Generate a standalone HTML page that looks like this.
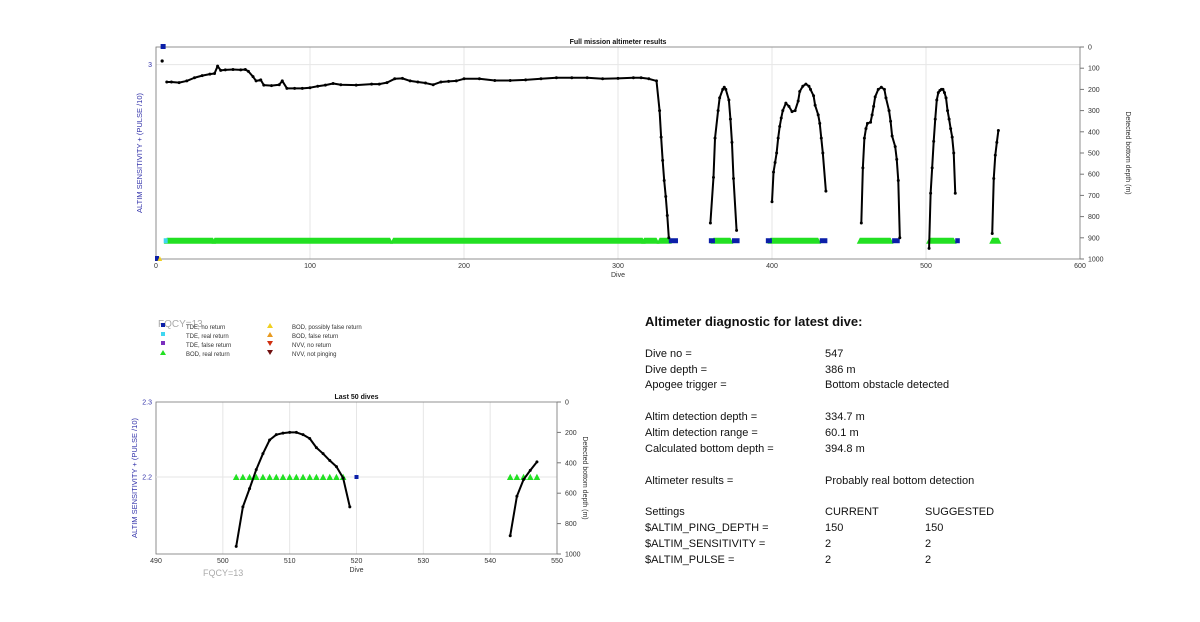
<!DOCTYPE html>
<html><head><meta charset="utf-8"><style>
body{margin:0;background:#fff;font-family:"Liberation Sans",Arial,sans-serif}
svg{display:block}
.t{font-family:"Liberation Sans",Arial,sans-serif}
</style></head><body>
<svg id="s" width="1200" height="622" viewBox="0 0 1200 622" xmlns="http://www.w3.org/2000/svg">
<rect width="1200" height="622" fill="#fff"/>
<g id="top"></g>
<g id="bot"></g>
<g class="t" font-size="6" fill="#333">
<text x="158" y="327" font-size="10" fill="#aaa">FQCY=13</text>
<rect x="161" y="323" width="4" height="4" fill="#0b1fa8"/><text x="186" y="329">TDE, no return</text>
<rect x="161" y="332" width="4" height="4" fill="#3fd6f0"/><text x="186" y="338">TDE, real return</text>
<rect x="161" y="341" width="4" height="4" fill="#7b2fbe"/><text x="186" y="347">TDE, false return</text>
<polygon points="160,355 163,350 166,355" fill="#22e022"/><text x="186" y="356">BOD, real return</text>
<polygon points="267,328 270,323 273,328" fill="#f0d020"/><text x="292" y="329">BOD, possibly false return</text>
<polygon points="267,337 270,332 273,337" fill="#e89a20"/><text x="292" y="338">BOD, false return</text>
<polygon points="267,341 273,341 270,346" fill="#d03010"/><text x="292" y="347">NVV, no return</text>
<polygon points="267,350 273,350 270,355" fill="#701010"/><text x="292" y="356">NVV, not pinging</text>
</g>
<g class="t" font-size="11" fill="#111">
<text x="645" y="326" font-size="13" font-weight="bold">Altimeter diagnostic for latest dive:</text>
<text x="645" y="357">Dive no =</text><text x="825" y="357">547</text>
<text x="645" y="373">Dive depth =</text><text x="825" y="373">386 m</text>
<text x="645" y="388">Apogee trigger =</text><text x="825" y="388">Bottom obstacle detected</text>
<text x="645" y="420">Altim detection depth =</text><text x="825" y="420">334.7 m</text>
<text x="645" y="436">Altim detection range =</text><text x="825" y="436">60.1 m</text>
<text x="645" y="452">Calculated bottom depth =</text><text x="825" y="452">394.8 m</text>
<text x="645" y="484">Altimeter results =</text><text x="825" y="484">Probably real bottom detection</text>
<text x="645" y="515">Settings</text><text x="825" y="515">CURRENT</text><text x="925" y="515">SUGGESTED</text>
<text x="645" y="531">$ALTIM_PING_DEPTH =</text><text x="825" y="531">150</text><text x="925" y="531">150</text>
<text x="645" y="547">$ALTIM_SENSITIVITY =</text><text x="825" y="547">2</text><text x="925" y="547">2</text>
<text x="645" y="563">$ALTIM_PULSE =</text><text x="825" y="563">2</text><text x="925" y="563">2</text>
</g>
</svg>
<script>
// ===== data: full mission =====
const topSeg1Dives=[7,10,15,20,25,30,35,38,40,42,45,50,55,58,60,63,65,68,70,75,80,82,85,90,95,100,105,110,115,120,130,140,145,150,155,160,165,170,175,180,185,190,195,200,210,220,230,240,250,260,270,280,290,300,310,315,320,325,327,328,329,330,331,332,333];
const topSeg1Depth=[165,165,168,160,145,135,128,125,90,110,108,106,108,106,115,140,160,155,180,182,178,160,195,195,195,192,185,180,172,178,180,175,175,168,150,148,160,165,170,178,165,162,160,150,150,158,158,155,150,145,145,145,150,148,145,145,150,160,300,425,535,630,705,795,900];
const topSeg2Dives=[360,362,363,365,366,368,369,370,372,373,374,375,377];
const topSeg2Depth=[830,615,430,300,240,200,190,200,250,340,450,620,865];
const topSeg3Dives=[400,401,402,403,404,405,406,407,409,411,413,415,417,418,420,422,424,425,427,428,430,431,432,433,435];
const topSeg3Depth=[730,590,545,500,430,375,335,300,265,280,305,300,255,210,185,175,185,200,230,275,320,360,430,500,680];
const topSeg4Dives=[458,459,460,461,462,464,465,466,467,469,471,473,474,476,477,478,480,481,482,483];
const topSeg4Depth=[830,570,430,385,360,355,320,280,235,200,190,200,240,300,350,420,470,530,630,900];
const recentDives=[502,503,504,505,506,507,508,509,510,511,512,513,514,515,516,517,518,519];
const recentDepth=[950,690,570,445,340,250,215,205,200,200,215,240,300,340,385,425,500,690];
const lastDives=[543,544,545,546,547];
const lastDepth=[880,620,510,450,394];
const greenSpanStart=[7,38,154,317,327,362,399,457,502,543];
const greenSpanEnd=[37,152,316,325,333,373,430,477,518,547];
const blueSpanStart=[333,359,374,396,431,478,519];
const blueSpanEnd=[337,361,377,398,434,481,520];
const topXTicks=[0,100,200,300,400,500,600];
const depthTicksTop=[0,100,200,300,400,500,600,700,800,900,1000];
const botXTicks=[490,500,510,520,530,540,550];
const depthTicksBot=[0,200,400,600,800,1000];
const botGreenDives=[502,503,504,505,506,507,508,509,510,511,512,513,514,515,516,517,518,543,544,545,546,547];
const botBlueDives=[520];
const markerLevel=2.2;

const NS="http://www.w3.org/2000/svg";
function el(p,tag,a){const e=document.createElementNS(NS,tag);for(const k in a)e.setAttribute(k,a[k]);p.appendChild(e);return e;}
function txt(p,x,y,s,a){const e=el(p,'text',Object.assign({x:x,y:y,'font-family':'Liberation Sans, Arial, sans-serif'},a));e.textContent=s;return e;}

function axes(g,X,Y,x0,x1,y0,y1,xt,yt,leftT,leftV,title,opt,lofs){
  for(const t of xt){const l=el(g,'line',{x1:X(t),x2:X(t),y1:y0,y2:y1,stroke:'#e6e6e6','stroke-width':1});
    
    
    const tl=txt(g,X(t),y1+9,String(t),{'font-size':7,fill:'#333','text-anchor':'middle'});
    
    }
  el(g,'line',{x1:x0,x2:x1,y1:leftT,y2:leftT,stroke:'#e6e6e6'});
  const fr=el(g,'rect',{x:x0,y:y0,width:x1-x0,height:y1-y0,fill:'none',stroke:'#777','stroke-width':0.8});
  
  
  for(const t of yt){const y=Y(t);el(g,'line',{x1:x1,x2:x1+4,y1:y,y2:y,stroke:'#777'});
    const tl=txt(g,x1+8,y+2.5,String(t),{'font-size':7,fill:'#333'});
    
    }
  for(const v of leftV){const tl=txt(g,x0-4,v[1]+2.5,v[0],{'font-size':7,fill:'#3333aa','text-anchor':'end'});
    
    }
  const tt=txt(g,(x0+x1)/2,y0-3,title,{'font-size':7,'font-weight':'bold','text-anchor':'middle',fill:'#111'});
  
  
  const xl=txt(g,(x0+x1)/2,y1+18,'Dive',{'font-size':7,'text-anchor':'middle',fill:'#333'});
  
  
  const yl=txt(g,0,0,'ALTIM SENSITIVITY + (PULSE /10)',{'font-size':7.5,fill:'#3333aa','text-anchor':'middle',transform:`translate(${x0-lofs},${(y0+y1)/2}) rotate(-90)`});
  
  
  const yr=txt(g,0,0,'Detected bottom depth (m)',{'font-size':7,fill:'#333','text-anchor':'middle',transform:`translate(${x1+opt},${(y0+y1)/2}) rotate(90)`});
  
  
}
function line(g,X,Y,xs,ys,name){
  const pts=xs.map((d,i)=>X(d)+','+Y(ys[i])).join(' ');
  const p=el(g,'polyline',{points:pts,fill:'none',stroke:'#000','stroke-width':2,'stroke-linejoin':'round'});
  
  
  xs.forEach((d,i)=>{const c=el(g,'circle',{cx:X(d),cy:Y(ys[i]),r:1.5,fill:'#000'});
    
    });
}

// ===== top chart =====
const T=document.getElementById('top');
const tx0=156,tx1=1080,ty0=47,ty1=259;
const TX=d=>tx0+(d-0)/600*(tx1-tx0);
const TY=m=>ty0+m/1000*(ty1-ty0);
const TL=v=>ty0+(3.08-v)/(3.08-2.117)*(ty1-ty0);
axes(T,TX,TY,tx0,tx1,ty0,ty1,topXTicks,depthTicksTop,TL(3),[['3',TL(3)]],'Full mission altimeter results',46,14);
const my=TL(markerLevel);
greenSpanStart.forEach((s,i)=>{const r=el(T,'polygon',{points:`${TX(s)-3},${my+3} ${TX(s)},${my-3} ${TX(greenSpanEnd[i])},${my-3} ${TX(greenSpanEnd[i])+3},${my+3}`,fill:'#22e022'});
  
  });
blueSpanStart.forEach((s,i)=>{const r=el(T,'rect',{x:TX(s),y:my-2.5,width:TX(blueSpanEnd[i])-TX(s)+3,height:5,fill:'#0b1fa8'});
  
  });
{const r=el(T,'rect',{x:TX(5),y:my-2.5,width:4,height:5,fill:'#3fd6f0'});}
{const r=el(T,'rect',{x:TX(3),y:ty0-3,width:5,height:5,fill:'#0b1fa8'});}
{const r=el(T,'rect',{x:TX(0)-1,y:ty1-3,width:4,height:5,fill:'#0b1fa8'});}
{const r=el(T,'polygon',{points:`${TX(1)},${ty1+2} ${TX(2.5)},${ty1-3} ${TX(4)},${ty1+2}`,fill:'#f0d020'});}
{const c=el(T,'circle',{cx:TX(4),cy:61,r:1.6,fill:'#000'});}
line(T,TX,TY,topSeg1Dives,topSeg1Depth,'depth-line-seg1');
line(T,TX,TY,topSeg2Dives,topSeg2Depth,'depth-line-seg2');
line(T,TX,TY,topSeg3Dives,topSeg3Depth,'depth-line-seg3');
line(T,TX,TY,topSeg4Dives,topSeg4Depth,'depth-line-seg4');
line(T,TX,TY,recentDives,recentDepth,'depth-line-seg5');
line(T,TX,TY,lastDives,lastDepth,'depth-line-seg6');

// ===== bottom chart =====
const B=document.getElementById('bot');
const bx0=156,bx1=557,by0=402,by1=554;
const BX=d=>bx0+(d-490)/60*(bx1-bx0);
const BY=m=>by0+m/1000*(by1-by0);
const BL=v=>by0+(2.3-v)/0.1*(477-by0);
axes(B,BX,BY,bx0,bx1,by0,by1,botXTicks,depthTicksBot,BL(2.2),[['2.3',BL(2.3)],['2.2',BL(2.2)]],'Last 50 dives',26,19);
el(B,'line',{x1:bx0,x2:bx0+46,y1:BL(2.2),y2:BL(2.2),stroke:'#e6e6e6'});
botGreenDives.forEach(d=>{const p=el(B,'polygon',{points:`${BX(d)-3.3},${BL(markerLevel)+3} ${BX(d)},${BL(markerLevel)-3.3} ${BX(d)+3.3},${BL(markerLevel)+3}`,fill:'#22e022'});
  
  });
botBlueDives.forEach(d=>{const r=el(B,'rect',{x:BX(d)-2,y:BL(markerLevel)-2,width:4,height:4,fill:'#0b1fa8'});
  
  });
line(B,BX,BY,recentDives,recentDepth,'recent-depth-line-a');
line(B,BX,BY,lastDives,lastDepth,'recent-depth-line-b');
{const f=txt(B,203,576,'FQCY=13',{'font-size':9,fill:'#aaa'});}
</script>
</body></html>
